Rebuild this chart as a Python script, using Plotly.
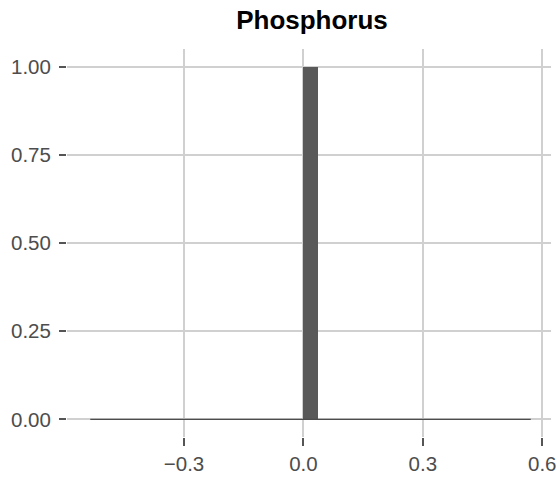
import numpy as np
import plotly.graph_objects as go

# histogram of Phosphorus: 31 bins, only the bin starting at 0 holds a value
bin_width = 0.0357
bin_start = -15 * bin_width
counts = [0] * 15 + [1] + [0] * 15

y_ticks = [0, 0.25, 0.5, 0.75, 1.0]
y_labels = ["0.00", "0.25", "0.50", "0.75", "1.00"]
x_ticks = [-0.3, 0.0, 0.3, 0.6]
x_labels = ["\u22120.3", "0.0", "0.3", "0.6"]

edges = bin_start + bin_width * np.arange(len(counts) + 1)
centers = (edges[:-1] + edges[1:]) / 2

fig = go.Figure()

# zero-count bins show as a thin line along the baseline
fig.add_trace(go.Scatter(x=[edges[0], edges[-1]], y=[0, 0], mode="lines",
                         line=dict(color="#4d4d4d", width=1.2),
                         hoverinfo="skip", showlegend=False))
fig.add_trace(go.Bar(x=centers, y=counts, width=bin_width,
                     marker=dict(color="#595959", line=dict(width=0)),
                     showlegend=False))

axis_font = dict(family="Liberation Sans, Arial, sans-serif", size=20.5, color="#4d4d4d")

fig.update_layout(
    width=559, height=477,
    margin=dict(l=67, r=8, t=49, b=40, autoexpand=False),
    plot_bgcolor="white", paper_bgcolor="white",
    bargap=0,
    title=dict(text="<b>Phosphorus</b>", x=312 / 559, xanchor="center",
               y=1 - 20 / 477, yanchor="middle",
               font=dict(family="Liberation Sans, Arial, sans-serif", size=26, color="black")),
    xaxis=dict(range=[-0.594, 0.622], tickvals=x_ticks, ticktext=x_labels,
               showgrid=True, gridcolor="#d0d0d0", gridwidth=1.6, zeroline=False,
               ticks="outside", ticklen=8, tickwidth=2, tickcolor="#555555",
               tickfont=axis_font, showline=False, automargin=False),
    yaxis=dict(range=[-0.05, 1.05], tickvals=y_ticks, ticktext=y_labels,
               showgrid=True, gridcolor="#d0d0d0", gridwidth=1.6, zeroline=False,
               ticks="outside", ticklen=7, tickwidth=2, tickcolor="#555555",
               tickfont=axis_font, showline=False, ticklabelstandoff=4,
               automargin=False),
)

# drop the default 8px page margin so the figure sits at the window corner
fig.write_html("out.html", config={"displayModeBar": False},
               post_script="document.body.style.margin = '0';")
